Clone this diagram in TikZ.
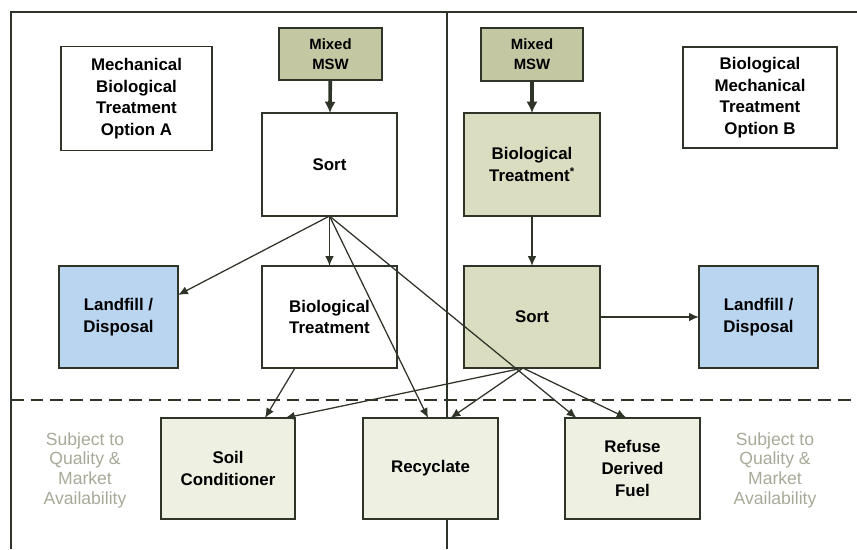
\documentclass[tikz,border=0pt]{standalone}
\usepackage{fontspec}
\setmainfont{Liberation Sans}
\usetikzlibrary{arrows.meta,
				calc}
\definecolor{edgecol}{HTML}{2F3429}
\definecolor{mswfill}{HTML}{C4C8A2}
\definecolor{procfill}{HTML}{DADDBF}
\definecolor{outfill}{HTML}{EEF0E2}
\definecolor{landfill}{HTML}{B9D5F0}
\definecolor{notegrey}{HTML}{A6AA98}

\begin{document}
\begin{tikzpicture}[x=0.025cm,y=-0.025cm,
  box/.style={rectangle,draw=edgecol,line width=1.1pt,inner sep=0pt,outer sep=0pt,
    align=center,font=\bfseries\fontsize{12}{15.4}\selectfont,
    minimum width=3.375cm,minimum height=2.55cm},
  mswbox/.style={box,fill=mswfill,minimum width=2.575cm,minimum height=1.3cm,
    font=\bfseries\fontsize{10.6}{14}\selectfont},
  procbox/.style={box,fill=procfill,minimum width=3.4cm},
  outbox/.style={box,fill=outfill,minimum height=2.525cm},
  landbox/.style={box,fill=landfill,minimum width=2.975cm},
  optbox/.style={box,minimum height=2.6cm},
  note/.style={align=center,text=notegrey,font=\fontsize{12.5}{14}\selectfont},
  flow/.style={draw=edgecol,line width=0.9pt,-{Latex[length=7pt,width=6pt]}},
  feed/.style={draw=edgecol,line width=2.6pt,-{Latex[length=8pt,width=8pt]}}]
  \useasboundingbox (0,0) rectangle (857,549);
  % frame and split
  \coordinate (tl) at (11,12);
  \coordinate (tr) at (857,12);
  \coordinate (bl) at (11,549);
  \coordinate (mt) at (447,12);
  \coordinate (mb) at (447,549);
  \coordinate (dl) at (11,400);
  \coordinate (dr) at (857,400);
  \draw[edgecol,line width=1.1pt] (bl)--(tl)--(tr);
  \draw[edgecol,line width=0.9pt] (mt)--(mb);
  \draw[edgecol,line width=2pt,dash pattern=on 9pt off 5pt] (dl)--(dr);

  % option A
  \node[optbox,minimum width=3.775cm] (optA) at (136.5,98.5) {Mechanical\\Biological\\Treatment\\Option A};
  \node[mswbox] (mswA) at (330.5,54) {Mixed\\MSW};
  \node[box,minimum height=2.575cm] (sortA) at (329.5,164.5) {Sort};
  \node[landbox] (landA) at (118.5,317) {Landfill /\\Disposal};
  \node[box] (bioA) at (329.5,317) {Biological\\Treatment};

  % option B
  \node[optbox,minimum width=3.85cm,minimum height=2.525cm] (optB) at (760,97.5) {Biological\\Mechanical\\Treatment\\Option B};
  \node[mswbox,minimum width=2.55cm,minimum height=1.325cm] (mswB) at (532,54.5) {Mixed\\MSW};
  \node[procbox,minimum height=2.575cm] (bioB) at (532,164.5) {Biological\\Treatment\textsuperscript{*}};
  \node[procbox] (sortB) at (532,317) {Sort};
  \node[landbox] (landB) at (758.5,317) {Landfill /\\Disposal};

  % outputs
  \node[outbox,minimum width=3.35cm] (soil) at (228,468.5) {Soil\\Conditioner};
  \node[outbox] (recy) at (430.5,468.5) {Recyclate};
  \node[outbox] (rdf) at (632.5,468.5) {Refuse\\Derived\\Fuel};
  \node[note] (noteA) at (85,470) {Subject to\\Quality \&\\Market\\Availability};
  \node[note] (noteB) at (775,470) {Subject to\\Quality \&\\Market\\Availability};

  % flows
  \coordinate (sortBout) at ([xshift=-0.225cm]sortB.south);
  \draw[feed] (mswA)--(sortA);
  \draw[feed] (mswB)--(bioB);
  \draw[flow] (sortA.south)--([yshift=0.55cm]landA.east);
  \draw[flow] (sortA.south)--(bioA.north);
  \draw[flow] (sortA.south)--([xshift=-0.06cm]recy.north);
  \draw[flow] (sortA.south)--([xshift=-1.4cm]rdf.north);
  \draw[flow] ([xshift=0.825cm]bioA.south west)--([xshift=0.925cm]soil.north);
  \draw[flow] (bioB)--(sortB);
  \draw[flow] (sortB)--(landB);
  \draw[flow] (sortBout)--([xshift=-0.25cm]soil.north east);
  \draw[flow] (sortBout)--([xshift=0.5cm]recy.north);
  \draw[flow] (sortBout)--([xshift=-0.15cm]rdf.north);
\end{tikzpicture}
\end{document}
